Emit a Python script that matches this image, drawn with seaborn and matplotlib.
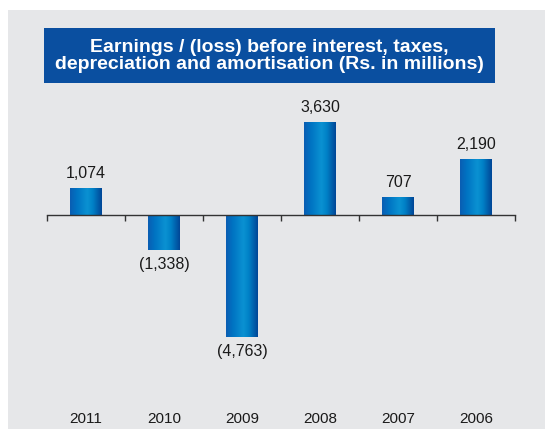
import numpy as np
import pandas as pd
import matplotlib
matplotlib.use("Agg")
import matplotlib.pyplot as plt
from matplotlib.colors import LinearSegmentedColormap
from matplotlib.patches import Rectangle
import seaborn as sns

years = ["2011", "2010", "2009", "2008", "2007", "2006"]
values = [1074, -1338, -4763, 3630, 707, 2190]
labels = ["1,074", "(1,338)", "(4,763)", "3,630", "707", "2,190"]
title = "Earnings / (loss) before interest, taxes,\ndepreciation and amortisation (Rs. in millions)"

sns.set_theme(style="white")
plt.rcParams['font.family'] = ['Liberation Sans', 'DejaVu Sans']

W, H = 545, 429
fig = plt.figure(figsize=(W / 100, H / 100), dpi=100)
fig.patch.set_facecolor("white")

# gray panel
bg = Rectangle((8 / W, 0), 1 - 8 / W, 1 - 10 / H, transform=fig.transFigure,
               facecolor="#e6e7e9", edgecolor="none", zorder=-2)
fig.add_artist(bg)

# title box
tb = Rectangle((44 / W, 1 - 83 / H), (495 - 44) / W, (83 - 28) / H,
               transform=fig.transFigure, facecolor="#0a4fa0", edgecolor="none", zorder=-1)
fig.add_artist(tb)
fig.text((44 + 495) / 2 / W, 1 - 56 / H, title, ha="center", va="center",
         color="white", fontsize=14, fontweight="bold", linespacing=0.98, zorder=5)

ax = fig.add_axes([47 / W, (H - 395) / H, (515 - 47) / W, (395 - 100) / H])
ax.set_zorder(3)
ax.set_facecolor("none")
ax.patch.set_alpha(0)

df = pd.DataFrame({"year": years, "value": values})
sns.barplot(data=df, x="year", y="value", order=years, color="#0070c0",
            width=0.41, ax=ax, saturation=1)

cmap = LinearSegmentedColormap.from_list(
    "cyl", [(0.0, "#0a5db2"), (0.2, "#0072c2"), (0.55, "#0a92d2"),
            (0.72, "#0080c6"), (1.0, "#004596")])
grad = np.linspace(0, 1, 256).reshape(1, -1)
for p in ax.patches:
    x0, y0 = p.get_x(), p.get_y()
    w, h = p.get_width(), p.get_height()
    ylo, yhi = min(y0, y0 + h), max(y0, y0 + h)
    im = ax.imshow(grad, cmap=cmap, aspect="auto",
                   extent=[x0, x0 + w, ylo, yhi], zorder=3, interpolation="bilinear")
    im.set_clip_path(p)
    p.set_edgecolor("none")

ax.set_xlim(-0.5, len(years) - 0.5)
ax.set_ylim(-7014, 4500)

for i, (v, lab) in enumerate(zip(values, labels)):
    if v >= 0:
        ax.annotate(lab, (i, v), xytext=(0, 5), textcoords="offset points",
                    ha="center", va="bottom", fontsize=11.5, color="#1a1a1a")
    else:
        ax.annotate(lab, (i, v), xytext=(0, -5), textcoords="offset points",
                    ha="center", va="top", fontsize=11.5, color="#1a1a1a")

for s in ["top", "right", "left"]:
    ax.spines[s].set_visible(False)
ax.spines["bottom"].set_position(("data", 0))
ax.spines["bottom"].set_color("#333333")
ax.spines["bottom"].set_linewidth(1.0)
ax.spines["bottom"].set_zorder(4)
ax.set_yticks([])
ax.set_xticks(np.arange(-0.5, len(years)))
ax.set_xticklabels([])
ax.tick_params(axis="x", direction="out", length=4, width=1, color="#333333", bottom=True)
ax.set_xlabel("")
ax.set_ylabel("")

for i, yr in enumerate(years):
    ax.text(i, 1 - (419 - 100) / (395 - 100), yr, transform=ax.get_xaxis_transform(),
            ha="center", va="center", fontsize=11, color="#1a1a1a")

fig.savefig("out.png", dpi=100, facecolor=fig.get_facecolor())
